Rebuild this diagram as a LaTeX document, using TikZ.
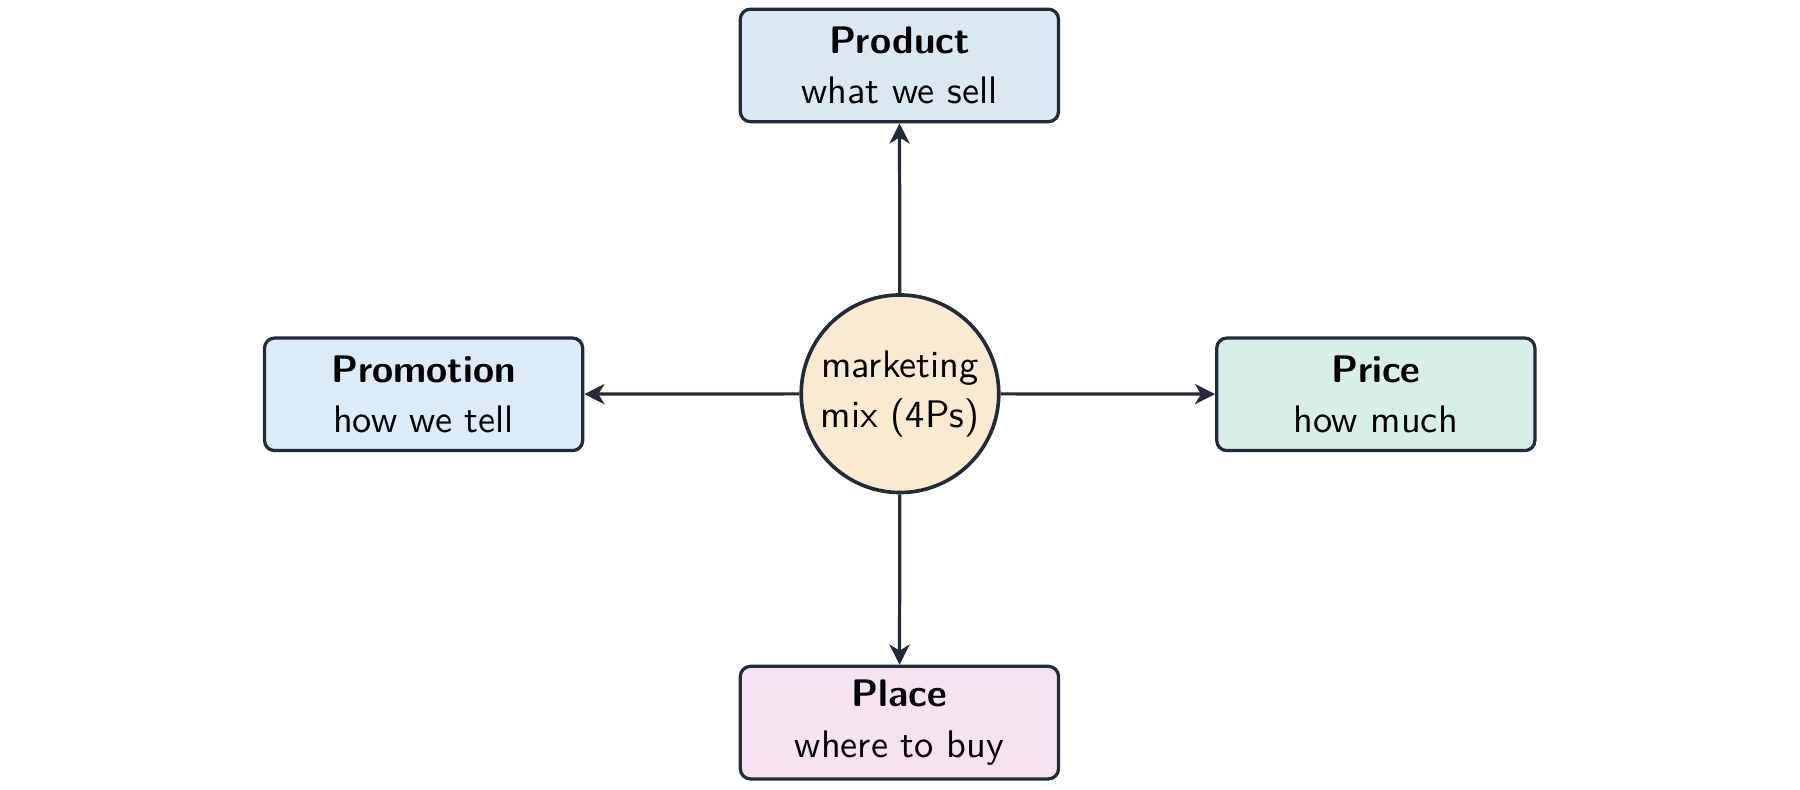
\documentclass[tikz,border=0pt]{standalone}
\usetikzlibrary{arrows.meta}
\definecolor{ink}{HTML}{232A3A}
\definecolor{cprod}{HTML}{DAE8F2}
\definecolor{cprom}{HTML}{DCEBF8}
\definecolor{cprice}{HTML}{D8EFE9}
\definecolor{cplace}{HTML}{F5E4F0}
\definecolor{cmix}{HTML}{FAEBD0}
\begin{document}
\begin{tikzpicture}[x=0.01cm,y=-0.01cm,
  pbox/.style={draw=ink,line width=0.8pt,rounded corners=2.5pt,minimum width=2.77cm,minimum height=0.98cm,align=center,inner sep=0pt,font=\sffamily\fontsize{9.5}{12.5}\selectfont},
  mix/.style={draw=ink,line width=0.9pt,circle,fill=cmix,minimum size=1.72cm,inner sep=0pt,align=center,font=\sffamily\fontsize{9.5}{12.5}\selectfont},
  conn/.style={draw=ink,line width=0.8pt,-{Stealth[length=5pt,width=5pt,inset=1.5pt]}}]
\useasboundingbox (0,0) rectangle (1568,688);
\node[mix] (m) at (784,343) {marketing\\mix (4Ps)};
\node[pbox,fill=cprod] (prod) at (783.5,57) {\textbf{Product}\\what we sell};
\node[pbox,fill=cprom] (prom) at (369,343.5) {\textbf{Promotion}\\how we tell};
\node[pbox,fill=cprice] (price) at (1198.5,343.5) {\textbf{Price}\\how much};
\node[pbox,fill=cplace] (place) at (783.5,629.5) {\textbf{Place}\\where to buy};
\draw[conn] (m) -- (prod);
\draw[conn] (m) -- (prom);
\draw[conn] (m) -- (price);
\draw[conn] (m) -- (place);
\end{tikzpicture}
\end{document}
